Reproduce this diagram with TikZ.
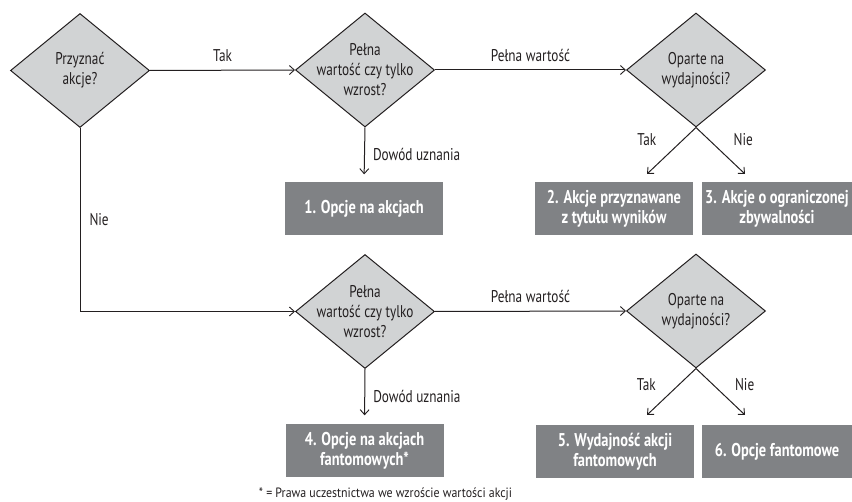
\documentclass[tikz,border=0pt]{standalone}
\usepackage{fontspec}
\setmainfont{PT Sans}[FakeStretch=0.78]
\newfontfamily\fnfont{PT Sans}[FakeStretch=0.88]
\usetikzlibrary{shapes.geometric,arrows.meta,calc}
\definecolor{dfill}{HTML}{D1D3D4}
\definecolor{bfill}{HTML}{808285}
\definecolor{ink}{HTML}{231F20}
\begin{document}
\begin{tikzpicture}[x=1pt,y=-1pt,
  dec/.style={diamond, draw=ink, fill=dfill, line width=1pt, inner sep=0pt,
              minimum width=139pt, minimum height=114pt},
  dtext/.style={align=center, font=\fontsize{17}{20}\selectfont, text=ink, inner sep=0pt},
  res/.style={rectangle, fill=bfill, text=white, align=center, inner sep=0pt,
              font=\bfseries\fontsize{18.5}{20}\selectfont, minimum height=53pt},
  lab/.style={font=\fontsize{17}{20}\selectfont, text=ink, inner sep=0pt},
  arr/.style={draw=ink, line width=1pt, -{Straight Barb[length=5pt,width=9pt,line width=0.9pt]}}
]
\useasboundingbox (0,0) rectangle (852,502);

% decisions
\node[dec, label={[dtext]center:Przyznać\\akcje?}] (d1) at (80,70.5) {};
\node[dec, label={[dtext]center:Pełna\\wartość czy tylko\\wzrost?}] (d2) at (365,70) {};
\node[dec, label={[dtext]center:Oparte na\\wydajności?}] (d3) at (696,70) {};
\node[dec, label={[dtext]center:Pełna\\wartość czy tylko\\wzrost?}] (d4) at (365,311.5) {};
\node[dec, label={[dtext]center:Oparte na\\wydajności?}] (d5) at (696,311) {};

% results
\node[res, minimum width=158pt] (b1) at (364,209) {1. Opcje na akcjach};
\node[res, minimum width=158pt] (b2) at (614,209) {2. Akcje przyznawane\\z tytułu wyników};
\node[res, minimum width=150pt] (b3) at (777,209) {3. Akcje o ograniczonej\\zbywalności};
\node[res, minimum width=158pt] (b4) at (364.5,451) {4. Opcje na akcjach\\fantomowych*};
\node[res, minimum width=158pt] (b5) at (615,452) {5. Wydajność akcji\\fantomowych};
\node[res, minimum width=150pt] (b6) at (777,452) {6. Opcje fantomowe};

% free arrow ends
\coordinate (t2) at (647,174);
\coordinate (t3) at (745,174);
\coordinate (t5) at (647,415);
\coordinate (t6) at (745,415);

% connectors
\draw[arr] (d1.east) -- node[lab, above=8pt]{Tak} (d2.west);
\draw[arr] (d1.south) |- node[lab, pos=0.25, right=9pt]{Nie} (d4.west);
\draw[arr, shorten >=8pt] (d2.south) -- node[lab, right=8pt]{Dowód uznania} (b1.north);
\draw[arr] (d2.east) -- node[lab, above=8pt]{Pełna wartość} (d3.west);
\draw[arr] (d3.south) -- node[lab, pos=0.27, xshift=-36pt]{Tak} (t2);
\draw[arr] (d3.south) -- node[lab, pos=0.27, xshift=34pt]{Nie} (t3);
\draw[arr, shorten >=9pt] (d4.south) -- node[lab, right=8pt]{Dowód uznania} (b4.north);
\draw[arr] (d4.east) -- node[lab, above=8pt]{Pełna wartość} (d5.west);
\draw[arr] (d5.south) -- node[lab, pos=0.34, xshift=-33pt]{Tak} (t5);
\draw[arr] (d5.south) -- node[lab, pos=0.34, xshift=32pt]{Nie} (t6);

% footnote
\node[font=\fnfont\fontsize{13.5}{15}\selectfont, text=ink, inner sep=0pt] (fn) at (385.5,494) {* = Prawa uczestnictwa we wzroście wartości akcji};
\end{tikzpicture}
\end{document}
